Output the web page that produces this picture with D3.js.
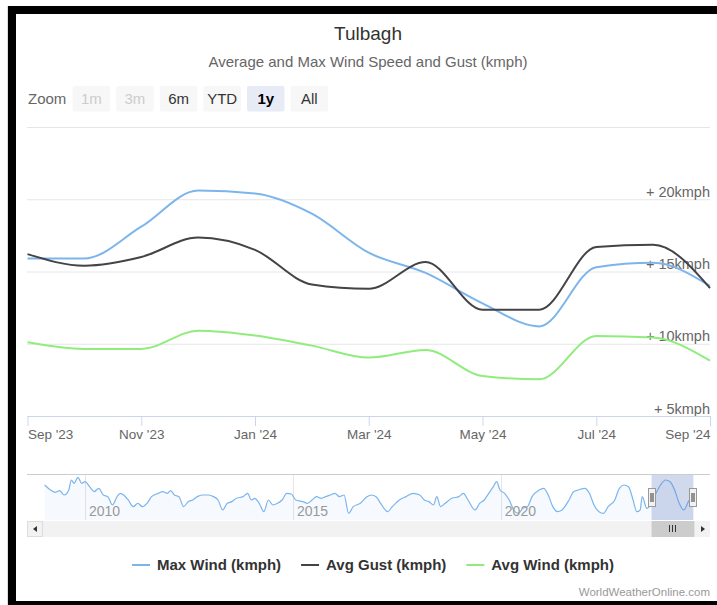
<!DOCTYPE html>
<html>
<head>
<meta charset="utf-8">
<title>Tulbagh - Average and Max Wind Speed and Gust</title>
<script src="https://d3js.org/d3.v7.min.js"></script>
<style>
body { margin: 0; padding: 0; background: #fff; }
svg { display: block; font-family: "Liberation Sans", Arial, sans-serif; }
</style>
</head>
<body>
<div id="chart"></div>
<script>

// monthly points shown in the main chart (ordinal axis, one point per month)
var months = ["2023-09-01","2023-10-01","2023-11-01","2023-12-01","2024-01-01","2024-02-01","2024-03-01",
              "2024-04-01","2024-05-01","2024-06-01","2024-07-01","2024-08-01","2024-09-01"];
var maxWind = [15.9, 15.9, 18.1, 20.6, 20.4, 19.0, 16.3, 14.9, 12.8, 11.2, 15.3, 15.6, 14.0];
var avgGust = [16.2, 15.4, 16.0, 17.35, 16.5, 14.1, 13.8, 15.65, 12.35, 12.35, 16.7, 16.85, 13.85];
var avgWind = [10.1, 9.64, 9.64, 10.9, 10.57, 9.87, 9.04, 9.57, 7.77, 7.54, 10.54, 10.43, 8.83];

var yTicks = [5, 10, 15, 20, 25];
var xTickIdx = [0, 2, 4, 6, 8, 10, 12];

// navigator: max wind over the whole history (decimal year, kmph)
var navYear = [2009.03,2009.17,2009.28,2009.39,2009.50,2009.61,2009.67,2009.74,2009.83,2009.92,
  2010.00,2010.11,2010.22,2010.33,2010.44,2010.55,2010.66,2010.77,2010.85,2010.93,
  2011.04,2011.16,2011.27,2011.38,2011.49,2011.60,2011.76,2011.87,2011.98,2012.06,
  2012.15,2012.26,2012.37,2012.48,2012.59,2012.70,2012.81,2012.98,2013.09,2013.20,
  2013.31,2013.42,2013.53,2013.64,2013.80,2013.91,2014.00,2014.08,2014.19,2014.30,
  2014.41,2014.52,2014.63,2014.74,2014.85,2014.96,2015.07,2015.24,2015.35,2015.46,
  2015.57,2015.68,2015.79,2015.90,2016.01,2016.12,2016.23,2016.34,2016.45,2016.62,
  2016.78,2016.89,2017.00,2017.11,2017.28,2017.39,2017.56,2017.72,2017.89,2018.05,
  2018.16,2018.27,2018.38,2018.46,2018.55,2018.66,2018.82,2018.99,2019.10,2019.21,
  2019.38,2019.49,2019.60,2019.71,2019.82,2019.90,2019.98,2020.09,2020.20,2020.31,
  2020.42,2020.53,2020.64,2020.75,2020.92,2021.03,2021.14,2021.25,2021.36,2021.47,
  2021.64,2021.75,2021.86,2022.02,2022.13,2022.24,2022.36,2022.47,2022.58,2022.74,
  2022.85,2022.96,2023.07,2023.18,2023.27,2023.35,2023.40,2023.51,2023.62,2023.73,
  2023.84,2023.96,2024.07,2024.18,2024.29,2024.40,2024.51,2024.62];
var navMax = [19.07,17.45,16.69,17.23,15.82,17.45,20.7,19.62,21.57,19.62,
  20.16,18.53,16.9,17.99,15.82,15.28,12.56,15.28,16.36,15.82,
  14.19,12.02,13.1,12.02,13.1,15.28,16.36,16.9,16.36,17.23,
  15.82,15.28,12.02,13.65,14.19,15.28,15.82,15.82,15.28,14.19,
  10.94,13.1,13.65,14.73,15.28,16.36,14.19,14.73,13.1,10.39,
  14.19,12.56,13.1,14.19,16.36,16.14,14.19,13.65,13.1,14.19,
  15.28,14.73,15.28,15.82,16.36,15.28,15.82,9.85,12.02,13.1,
  15.28,15.82,15.28,13.1,10.39,12.02,14.19,15.28,16.36,15.82,
  14.19,13.65,12.56,15.28,12.02,13.1,14.73,15.28,16.36,14.19,
  10.94,13.1,14.19,16.36,18.53,20.16,17.45,16.36,14.19,10.94,
  9.85,11.48,12.02,15.28,17.45,17.99,15.82,12.02,10.39,10.94,
  14.19,16.9,17.45,17.99,16.36,12.56,10.39,9.85,12.02,14.19,
  17.99,19.07,18.53,14.19,10.39,10.94,15.28,11.48,13.1,16.36,
  19.07,20.7,20.16,17.45,13.1,10.94,13.65,15.82];
var navYears = [2010, 2015, 2020];
var navSelection = [2023.625, 2024.63];

var zoomButtons = ["1m", "3m", "6m", "YTD", "1y", "All"];
var disabledButtons = ["1m", "3m"];
var selectedButton = "1y";

var series = [
  {name: "Max Wind (kmph)", values: maxWind, color: "#7cb5ec"},
  {name: "Avg Gust (kmph)", values: avgGust, color: "#434348"},
  {name: "Avg Wind (kmph)", values: avgWind, color: "#90ed7d"}
];

var W = 717, H = 605;
var svg = d3.select("#chart").append("svg").attr("width", W).attr("height", H);

// black frame round the screenshot
svg.append("line").attr("x1", 7.5).attr("x2", 7.5).attr("y1", 6).attr("y2", H).attr("stroke", "#ddd");
svg.append("rect").attr("x", 8).attr("y", 6).attr("width", 8).attr("height", H - 6).attr("fill", "#000");
svg.append("rect").attr("x", 8).attr("y", 6).attr("width", W - 8).attr("height", 8).attr("fill", "#000");
svg.append("rect").attr("x", 8).attr("y", 601).attr("width", W - 8).attr("height", 4).attr("fill", "#000");

// title
svg.append("text").attr("x", 368).attr("y", 40).attr("text-anchor", "middle")
  .style("font-size", "19px").attr("fill", "#333").text("Tulbagh");
svg.append("text").attr("x", 368).attr("y", 67).attr("text-anchor", "middle")
  .style("font-size", "15px").attr("fill", "#666").text("Average and Max Wind Speed and Gust (kmph)");

// range selector
svg.append("text").attr("x", 28).attr("y", 104).style("font-size", "15px").attr("fill", "#666").text("Zoom");
var btn = svg.selectAll("g.btn").data(zoomButtons).enter().append("g")
  .attr("class", "btn")
  .attr("transform", function(d, i) { return "translate(" + (72.6 + i * 43.6) + ",86)"; });
btn.append("rect").attr("width", 37.5).attr("height", 25.5).attr("rx", 2)
  .attr("fill", function(d) { return d == selectedButton ? "#e6ebf5" : "#f7f7f7"; });
btn.append("text").attr("x", 18.75).attr("y", 18).attr("text-anchor", "middle")
  .style("font-size", "15px")
  .style("font-weight", function(d) { return d == selectedButton ? "bold" : "normal"; })
  .attr("fill", function(d) { return disabledButtons.indexOf(d) >= 0 ? "#ccc" : (d == selectedButton ? "#000" : "#333"); })
  .text(function(d) { return d; });

//////////
// MAIN PLOT //
//////////

var left = 27.5, right = 710;
var x = d3.scaleLinear().domain([0, months.length - 1]).range([left, right]);
var y = d3.scaleLinear().domain([5, 25]).range([416, 127]);
var parse = d3.timeParse("%Y-%m-%d");
var fmt = d3.timeFormat("%b '%y");

var yAxis = svg.append("g").attr("transform", "translate(" + right + ",0)")
  .call(d3.axisLeft(y).tickValues(yTicks).tickSize(right - left + 0.5)
    .tickFormat(function(d) { return d == 25 ? "" : "+ " + d + "kmph"; }));
yAxis.select(".domain").remove();
yAxis.selectAll(".tick line").attr("stroke", "#e6e6e6");
yAxis.selectAll(".tick text").attr("x", 0).attr("dy", "-3px").attr("text-anchor", "end")
  .style("font-size", "14.5px").attr("fill", "#666").style("font-family", "Liberation Sans, Arial, sans-serif");

var xAxis = svg.append("g").attr("transform", "translate(0,416)")
  .call(d3.axisBottom(x).tickValues(xTickIdx).tickSize(10).tickSizeOuter(0)
    .tickFormat(function(i) { return fmt(parse(months[i])); }));
xAxis.select(".domain").attr("stroke", "#ccd6eb");
xAxis.selectAll(".tick line").attr("stroke", "#ccd6eb");
xAxis.selectAll(".tick text").style("font-size", "13.5px").attr("fill", "#666")
  .style("font-family", "Liberation Sans, Arial, sans-serif")
  .attr("text-anchor", function(d, i) { return i == 0 ? "start" : (i == xTickIdx.length - 1 ? "end" : "middle"); });

var line = d3.line()
  .x(function(d, i) { return x(i); })
  .y(function(d) { return y(d); })
  .curve(d3.curveMonotoneX);

svg.selectAll("path.series").data(series).enter().append("path")
  .attr("class", "series")
  .attr("d", function(d) { return line(d.values); })
  .attr("fill", "none")
  .attr("stroke", function(d) { return d.color; })
  .attr("stroke-width", 2)
  .attr("stroke-linejoin", "round");

//////////
// NAVIGATOR //
//////////

var navTop = 474, navBottom = 520;
var nx = d3.scaleLinear().domain([2008.605, 2025.03]).range([27, 710]);
var ny = d3.scaleLinear().domain([8, 22]).range([519, 476]);

svg.selectAll("line.navgrid").data(navYears).enter().append("line")
  .attr("class", "navgrid")
  .attr("x1", function(d) { return Math.round(nx(d)) + 0.5; })
  .attr("x2", function(d) { return Math.round(nx(d)) + 0.5; })
  .attr("y1", navTop).attr("y2", navBottom).attr("stroke", "#e6e6e6");

var navPts = navYear.map(function(d, i) { return [d, navMax[i]]; });
svg.append("path")
  .attr("d", d3.area().x(function(d) { return nx(d[0]); }).y0(navBottom).y1(function(d) { return ny(d[1]); })
    .curve(d3.curveMonotoneX)(navPts))
  .attr("fill", "#7cb5ec").attr("fill-opacity", 0.07);
svg.append("path")
  .attr("d", d3.line().x(function(d) { return nx(d[0]); }).y(function(d) { return ny(d[1]); })
    .curve(d3.curveMonotoneX)(navPts))
  .attr("fill", "none").attr("stroke", "#7cb5ec").attr("stroke-width", 1.2);

svg.selectAll("text.navlab").data(navYears).enter().append("text")
  .attr("class", "navlab")
  .attr("x", function(d) { return nx(d) + 4; }).attr("y", 516)
  .style("font-size", "14px").attr("fill", "#999")
  .text(function(d) { return d; });

var s0 = nx(navSelection[0]), s1 = nx(navSelection[1]);
svg.append("rect").attr("x", s0).attr("y", navTop).attr("width", s1 - s0).attr("height", navBottom - navTop)
  .attr("fill", "rgba(102,133,194,0.3)");
svg.append("line").attr("x1", 27).attr("x2", 710).attr("y1", navTop + 0.5).attr("y2", navTop + 0.5)
  .attr("stroke", "#ccc");

// handles
[s0, s1].forEach(function(hx) {
  var h = svg.append("g").attr("transform", "translate(" + (Math.round(hx) - 4) + ",488)");
  h.append("rect").attr("x", 0.5).attr("y", 0.5).attr("width", 7).attr("height", 18)
    .attr("fill", "#f2f2f2").attr("stroke", "#999");
  h.append("line").attr("x1", 3).attr("x2", 3).attr("y1", 5).attr("y2", 14).attr("stroke", "#333");
  h.append("line").attr("x1", 5).attr("x2", 5).attr("y1", 5).attr("y2", 14).attr("stroke", "#333");
});

// scrollbar
var sbTop = 521, sbH = 16;
svg.append("rect").attr("x", 27).attr("y", sbTop).attr("width", 683).attr("height", sbH).attr("fill", "#f2f2f2");
svg.append("rect").attr("x", s0).attr("y", sbTop).attr("width", s1 - s0 + 1).attr("height", sbH).attr("fill", "#ccc");
[-3, 0, 3].forEach(function(o) {
  var cx = Math.round((s0 + s1) / 2) + o + 0.5;
  svg.append("line").attr("x1", cx).attr("x2", cx).attr("y1", sbTop + 4).attr("y2", sbTop + 11).attr("stroke", "#333");
});
svg.append("rect").attr("x", 27.5).attr("y", sbTop + 0.5).attr("width", 15).attr("height", sbH - 1)
  .attr("fill", "#f2f2f2").attr("stroke", "#ddd");
svg.append("path").attr("d", "M37," + (sbTop + 5) + "L33," + (sbTop + 8) + "L37," + (sbTop + 11) + "Z").attr("fill", "#333");
svg.append("rect").attr("x", 695).attr("y", sbTop).attr("width", 15).attr("height", sbH).attr("fill", "#f2f2f2");
svg.append("path").attr("d", "M701," + (sbTop + 5) + "L705," + (sbTop + 8) + "L701," + (sbTop + 11) + "Z").attr("fill", "#333");

//////////
// LEGEND //
//////////

var legend = svg.append("g");
var lx = 0;
series.forEach(function(s) {
  var g = legend.append("g").attr("transform", "translate(" + lx + ",0)");
  g.append("line").attr("x1", 0).attr("x2", 18).attr("y1", 565).attr("y2", 565)
    .attr("stroke", s.color).attr("stroke-width", 2);
  var t = g.append("text").attr("x", 25).attr("y", 570).style("font-size", "15px").style("font-weight", "bold")
    .attr("fill", "#333").text(s.name);
  lx += 25 + t.node().getComputedTextLength() + 20;
});
legend.attr("transform", "translate(" + (373 - (lx - 20) / 2) + ",0)");

svg.append("text").attr("x", 710).attr("y", 596).attr("text-anchor", "end")
  .style("font-size", "11.5px").attr("fill", "#999").text("WorldWeatherOnline.com");

</script>
</body>
</html>
